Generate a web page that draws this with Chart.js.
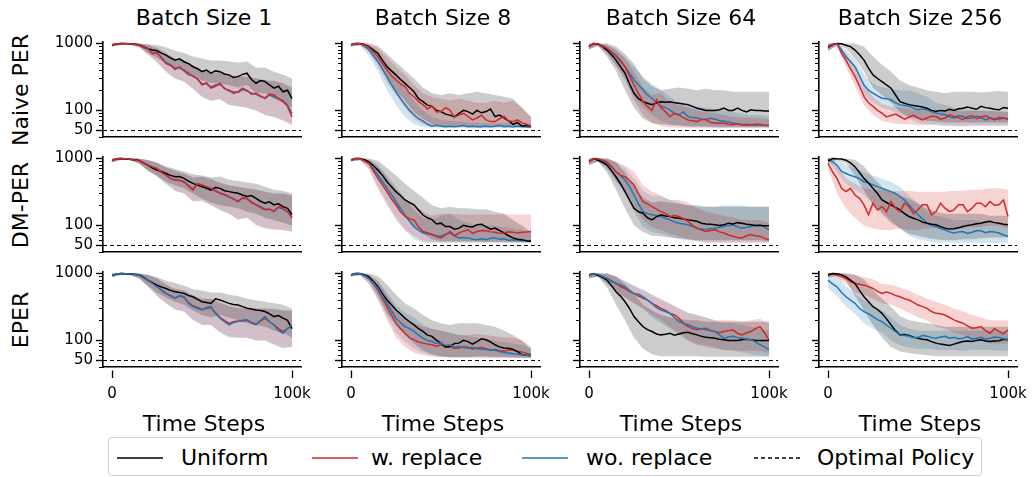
<!DOCTYPE html>
<html>
<head>
<meta charset="utf-8">
<script src="https://cdn.jsdelivr.net/npm/chart.js@4.4.0/dist/chart.umd.min.js"></script>
<style>
  body { margin: 0; background: #fff; width: 1032px; height: 477px; position: relative; overflow: hidden;
         font-family: "DejaVu Sans", sans-serif; color: #000; }
  canvas.panel { position: absolute; }
  .txt { position: absolute; white-space: nowrap; font-size: 22px; line-height: 1; }
  .colTitle, .xTitle { transform: translate(-50%, -50%); }
  .rowTitle { transform: translate(-50%, -50%) rotate(-90deg); }
  #legend { position: absolute; left: 108px; top: 437px; width: 872px; height: 37px;
            border: 1px solid #d0d0d0; border-radius: 4px; }
  .handle { position: absolute; }
</style>
</head>
<body>
<div id="legend"></div>
<script>
// x positions of the running means (every 2.5k steps) and of the band edges (every 5k steps)
const steps = [0, 2500, 5000, 7500, 10000, 12500, 15000, 17500, 20000, 22500, 25000, 27500, 30000, 32500, 35000, 37500, 40000, 42500, 45000, 47500, 50000, 52500, 55000, 57500, 60000, 62500, 65000, 67500, 70000, 72500, 75000, 77500, 80000, 82500, 85000, 87500, 90000, 92500, 95000, 97500, 100000];
const bandSteps = [0, 5000, 10000, 15000, 20000, 25000, 30000, 35000, 40000, 45000, 50000, 55000, 60000, 65000, 70000, 75000, 80000, 85000, 90000, 95000, 100000];

const batchTitles = ['Batch Size 1', 'Batch Size 8', 'Batch Size 64', 'Batch Size 256'];
const methodNames = ['Naive PER', 'DM-PER', 'EPER'];
const seriesNames = ['Uniform', 'w. replace', 'wo. replace'];
const optimalName = 'Optimal Policy';
const optimalSteps = 50;
const yTicks = [40, 50, 60, 70, 80, 90, 100, 200, 300, 400, 500, 600, 700, 800, 900, 1000];
const yMajor = [50, 100, 1000];
const yTickLabels = ['50', '100', '1000'];
const xTicks = [0, 100000];
const xTickLabels = ['0', '100k'];
const xAxisTitle = 'Time Steps';

// ---- Naive PER ----
const naive1Uniform = [950, 985, 1000, 1000, 990, 985, 960, 900, 840, 800, 780, 720, 670, 610, 565, 590, 535, 500, 450, 420, 380, 400, 360, 390, 380, 350, 340, 310, 320, 345, 360, 290, 255, 280, 270, 240, 215, 230, 190, 200, 150];
const naive1WRep = [950, 990, 1000, 995, 990, 980, 950, 880, 840, 700, 740, 600, 505, 470, 425, 440, 400, 360, 320, 300, 240, 260, 215, 230, 255, 210, 203, 180, 190, 215, 200, 175, 180, 165, 150, 175, 170, 150, 135, 115, 80];
const naive1WoRep = [950, 985, 1000, 990, 985, 975, 945, 870, 830, 720, 720, 620, 520, 480, 410, 450, 390, 340, 330, 290, 250, 250, 225, 240, 245, 215, 195, 190, 185, 205, 195, 180, 175, 160, 155, 170, 160, 150, 140, 120, 90];
const naive1UniformLo = [900, 950, 960, 900, 720, 610, 500, 420, 400, 330, 280, 260, 250, 240, 220, 240, 180, 180, 150, 130, 110];
const naive1UniformHi = [1000, 1000, 1000, 1000, 980, 950, 880, 780, 720, 640, 600, 560, 560, 540, 520, 540, 440, 440, 380, 340, 300];
const naive1WRepLo = [900, 950, 950, 880, 680, 520, 380, 300, 270, 210, 160, 140, 150, 120, 115, 110, 100, 85, 80, 70, 60];
const naive1WRepHi = [1000, 1000, 1000, 1000, 960, 850, 700, 600, 560, 480, 400, 360, 380, 340, 330, 320, 300, 280, 280, 260, 220];
const naive1WoRepLo = [900, 950, 950, 880, 690, 530, 380, 300, 270, 210, 160, 140, 145, 120, 115, 110, 100, 85, 80, 72, 62];
const naive1WoRepHi = [1000, 1000, 1000, 1000, 960, 860, 720, 600, 560, 470, 400, 360, 370, 330, 320, 320, 300, 280, 270, 250, 220];

const naive8Uniform = [960, 1000, 1000, 980, 890, 800, 710, 560, 450, 390, 340, 290, 254, 220, 190, 150, 135, 120, 115, 100, 96, 88, 85, 80, 90, 100, 96, 88, 100, 92, 96, 105, 81, 85, 77, 70, 62, 66, 58, 60, 57];
const naive8WRep = [960, 1000, 990, 960, 870, 740, 630, 500, 400, 330, 285, 250, 227, 180, 160, 135, 122, 105, 115, 95, 96, 110, 100, 80, 85, 90, 81, 72, 77, 85, 72, 68, 68, 75, 81, 70, 68, 72, 65, 62, 58];
const naive8WoRep = [960, 1000, 990, 920, 800, 650, 535, 410, 320, 240, 190, 150, 122, 100, 86, 75, 69, 62, 58, 60, 58, 57, 58, 57, 58, 60, 57, 58, 57, 57, 58, 57, 58, 60, 57, 58, 57, 58, 58, 57, 57];
const naive8UniformLo = [900, 950, 800, 530, 300, 200, 140, 95, 75, 62, 58, 58, 58, 58, 58, 58, 57, 57, 56, 55, 55];
const naive8UniformHi = [1000, 1000, 1000, 920, 700, 520, 400, 300, 220, 180, 170, 180, 170, 180, 190, 180, 170, 160, 150, 110, 80];
const naive8WRepLo = [900, 940, 750, 450, 260, 170, 110, 75, 62, 58, 57, 57, 56, 56, 56, 56, 56, 56, 56, 55, 55];
const naive8WRepHi = [1000, 1000, 980, 850, 620, 450, 340, 240, 180, 160, 150, 140, 150, 140, 130, 130, 140, 130, 140, 110, 80];
const naive8WoRepLo = [900, 930, 650, 380, 200, 120, 80, 62, 56, 55, 55, 55, 55, 55, 55, 55, 55, 55, 55, 55, 55];
const naive8WoRepHi = [1000, 1000, 960, 760, 500, 330, 210, 140, 100, 80, 72, 70, 68, 66, 65, 64, 64, 64, 64, 63, 62];

const naive64Uniform = [900, 1000, 980, 900, 800, 680, 565, 450, 360, 250, 180, 150, 135, 128, 122, 130, 135, 132, 135, 130, 128, 125, 122, 115, 108, 104, 100, 100, 100, 102, 108, 100, 100, 108, 100, 95, 102, 100, 100, 98, 98];
const naive64WRep = [900, 1000, 990, 920, 845, 760, 670, 560, 450, 330, 240, 180, 135, 115, 100, 143, 110, 95, 81, 90, 85, 78, 72, 70, 68, 73, 73, 66, 65, 64, 64, 62, 61, 63, 61, 60, 61, 62, 62, 60, 59];
const naive64WoRep = [900, 1000, 990, 920, 845, 740, 634, 540, 450, 360, 285, 240, 203, 170, 152, 130, 115, 110, 102, 90, 86, 95, 81, 78, 77, 74, 73, 76, 74, 70, 69, 67, 65, 63, 61, 62, 61, 60, 61, 60, 60];
const naive64UniformLo = [820, 930, 640, 390, 200, 110, 75, 65, 62, 60, 60, 58, 58, 58, 57, 57, 57, 57, 57, 57, 57];
const naive64UniformHi = [1000, 1000, 1000, 900, 700, 500, 300, 230, 200, 210, 220, 210, 200, 210, 200, 200, 190, 190, 190, 190, 190];
const naive64WRepLo = [820, 930, 720, 480, 300, 140, 85, 65, 58, 56, 55, 55, 55, 55, 55, 55, 55, 55, 55, 55, 55];
const naive64WRepHi = [1000, 1000, 960, 820, 600, 380, 220, 170, 180, 130, 120, 110, 100, 95, 90, 85, 80, 78, 78, 76, 74];
const naive64WoRepLo = [820, 930, 700, 460, 280, 160, 110, 85, 70, 62, 58, 57, 56, 56, 55, 55, 55, 55, 55, 55, 55];
const naive64WoRepHi = [1000, 1000, 960, 800, 620, 450, 320, 250, 200, 160, 130, 120, 115, 110, 105, 100, 95, 90, 85, 85, 82];

const naive256Uniform = [880, 960, 1000, 990, 945, 900, 800, 680, 565, 430, 340, 300, 270, 240, 215, 170, 135, 128, 122, 118, 115, 112, 108, 100, 96, 100, 98, 104, 100, 106, 108, 112, 108, 104, 115, 110, 108, 104, 102, 110, 108];
const naive256WRep = [900, 970, 1000, 720, 565, 420, 320, 230, 161, 130, 115, 100, 91, 80, 84, 88, 81, 74, 79, 85, 77, 72, 77, 82, 81, 74, 77, 86, 81, 78, 73, 80, 84, 75, 79, 83, 77, 72, 79, 76, 75];
const naive256WoRep = [900, 980, 1000, 800, 634, 540, 450, 330, 240, 200, 181, 165, 152, 150, 144, 130, 121, 118, 115, 108, 102, 105, 102, 95, 91, 88, 86, 80, 77, 84, 81, 76, 77, 82, 79, 72, 77, 75, 73, 78, 73];
const naive256UniformLo = [780, 950, 850, 600, 380, 220, 170, 130, 95, 80, 75, 70, 68, 66, 66, 66, 66, 66, 66, 66, 66];
const naive256UniformHi = [1000, 1000, 1000, 1000, 900, 640, 480, 380, 280, 240, 220, 200, 190, 180, 190, 190, 190, 185, 190, 195, 190];
const naive256WRepLo = [780, 920, 440, 230, 120, 85, 70, 65, 62, 62, 60, 60, 62, 60, 60, 58, 60, 60, 60, 60, 60];
const naive256WRepHi = [1000, 1000, 720, 440, 240, 160, 125, 115, 110, 105, 100, 100, 102, 100, 100, 96, 100, 98, 98, 96, 95];
const naive256WoRepLo = [780, 930, 500, 320, 170, 130, 110, 100, 85, 75, 65, 62, 60, 58, 58, 58, 58, 58, 58, 58, 58];
const naive256WoRepHi = [1000, 1000, 800, 600, 350, 250, 220, 210, 200, 200, 180, 160, 130, 120, 110, 105, 100, 100, 98, 96, 95];

// ---- DM-PER ----
const dm1Uniform = [930, 990, 1000, 985, 980, 960, 940, 860, 796, 720, 671, 640, 598, 560, 534, 540, 505, 460, 425, 400, 379, 360, 338, 370, 358, 330, 320, 310, 302, 285, 270, 280, 254, 230, 215, 225, 203, 210, 191, 180, 145];
const dm1WRep = [930, 990, 1000, 990, 975, 950, 930, 850, 796, 750, 710, 620, 565, 500, 477, 470, 450, 390, 338, 420, 402, 380, 358, 330, 302, 290, 270, 245, 227, 260, 254, 220, 203, 185, 171, 175, 161, 190, 181, 160, 130];
const dm1WoRep = [930, 990, 1000, 985, 975, 955, 925, 855, 790, 740, 700, 630, 570, 505, 480, 475, 445, 395, 350, 410, 395, 375, 350, 325, 305, 285, 265, 250, 230, 255, 250, 225, 205, 190, 175, 175, 165, 185, 175, 160, 135];
const dm1UniformLo = [880, 960, 940, 850, 660, 560, 450, 400, 360, 300, 250, 220, 200, 190, 180, 160, 150, 130, 120, 110, 100];
const dm1UniformHi = [1000, 1000, 1000, 1000, 950, 860, 760, 700, 640, 580, 560, 520, 540, 480, 460, 440, 420, 380, 340, 330, 300];
const dm1WRepLo = [880, 960, 940, 840, 650, 540, 420, 330, 300, 230, 240, 200, 170, 150, 120, 130, 100, 90, 85, 85, 80];
const dm1WRepHi = [1000, 1000, 1000, 1000, 940, 880, 740, 660, 600, 520, 540, 500, 440, 400, 380, 360, 340, 320, 300, 300, 280];
const dm1WoRepLo = [880, 960, 940, 840, 650, 540, 420, 330, 300, 230, 230, 200, 170, 150, 125, 130, 105, 92, 88, 85, 82];
const dm1WoRepHi = [1000, 1000, 1000, 1000, 940, 870, 730, 650, 590, 520, 530, 490, 430, 400, 380, 360, 340, 320, 300, 300, 280];

const dm8Uniform = [950, 1000, 1000, 960, 892, 780, 671, 560, 450, 380, 320, 280, 240, 220, 203, 170, 143, 130, 122, 105, 108, 96, 96, 88, 91, 100, 96, 95, 102, 104, 96, 88, 91, 84, 77, 70, 65, 62, 61, 59, 58];
const dm8WRep = [950, 1000, 990, 920, 843, 650, 505, 400, 320, 250, 203, 160, 136, 125, 121, 95, 81, 78, 73, 68, 65, 72, 81, 70, 77, 82, 86, 76, 81, 84, 83, 80, 79, 76, 77, 80, 79, 77, 79, 80, 81];
const dm8WoRep = [950, 1000, 990, 930, 843, 700, 565, 450, 358, 290, 227, 180, 144, 115, 96, 85, 77, 75, 73, 70, 69, 74, 77, 70, 65, 66, 65, 62, 61, 63, 61, 64, 65, 62, 63, 60, 61, 60, 59, 59, 58];
const dm8UniformLo = [900, 950, 800, 500, 300, 190, 130, 100, 75, 62, 58, 58, 58, 58, 58, 57, 57, 57, 56, 56, 55];
const dm8UniformHi = [1000, 1000, 1000, 930, 720, 560, 420, 330, 260, 200, 180, 190, 180, 180, 175, 175, 160, 150, 120, 100, 80];
const dm8WRepLo = [900, 940, 700, 340, 200, 120, 85, 70, 58, 56, 56, 56, 56, 56, 56, 56, 56, 56, 56, 56, 56];
const dm8WRepHi = [1000, 1000, 960, 760, 520, 340, 230, 200, 160, 140, 150, 150, 145, 145, 145, 145, 145, 145, 145, 145, 145];
const dm8WoRepLo = [900, 940, 700, 380, 220, 130, 85, 62, 56, 55, 55, 55, 55, 55, 55, 55, 55, 55, 55, 55, 55];
const dm8WoRepHi = [1000, 1000, 960, 800, 560, 380, 250, 170, 130, 120, 140, 150, 120, 110, 100, 100, 100, 95, 90, 85, 80];

const dm64Uniform = [900, 1000, 945, 880, 796, 660, 534, 420, 320, 240, 181, 160, 152, 130, 121, 135, 144, 138, 136, 130, 128, 125, 121, 118, 115, 108, 105, 104, 102, 100, 102, 108, 105, 110, 108, 104, 102, 100, 100, 99, 99];
const dm64WRep = [900, 1000, 990, 950, 892, 760, 634, 560, 534, 470, 402, 300, 227, 210, 191, 175, 161, 150, 136, 140, 136, 125, 115, 100, 91, 85, 81, 84, 86, 80, 77, 72, 69, 66, 65, 70, 73, 70, 69, 64, 61];
const dm64WoRep = [900, 1000, 990, 930, 843, 740, 634, 560, 477, 380, 285, 210, 161, 150, 144, 140, 136, 128, 121, 112, 108, 105, 102, 96, 91, 88, 86, 90, 91, 94, 96, 100, 102, 95, 91, 94, 96, 100, 102, 94, 86];
const dm64UniformLo = [800, 900, 620, 340, 180, 100, 80, 70, 68, 66, 64, 62, 60, 60, 60, 60, 60, 60, 60, 60, 58];
const dm64UniformHi = [1000, 1000, 1000, 880, 620, 380, 260, 220, 230, 220, 210, 200, 200, 190, 190, 190, 190, 190, 190, 190, 190];
const dm64WRepLo = [800, 900, 740, 460, 340, 200, 120, 95, 85, 75, 68, 62, 58, 56, 55, 55, 55, 55, 55, 55, 55];
const dm64WRepHi = [1000, 1000, 1000, 900, 780, 640, 400, 320, 280, 240, 240, 220, 180, 160, 150, 140, 130, 120, 120, 120, 110];
const dm64WoRepLo = [800, 900, 700, 450, 300, 160, 95, 80, 75, 68, 62, 60, 58, 56, 56, 56, 56, 56, 56, 56, 56];
const dm64WoRepHi = [1000, 1000, 1000, 880, 720, 500, 330, 280, 270, 240, 220, 200, 190, 190, 190, 200, 200, 200, 190, 190, 190];

const dm256Uniform = [920, 1000, 990, 985, 945, 860, 752, 620, 505, 430, 358, 300, 240, 220, 203, 185, 171, 150, 136, 128, 121, 112, 108, 104, 102, 96, 91, 88, 89, 92, 96, 100, 102, 106, 108, 112, 115, 110, 108, 104, 102];
const dm256WRep = [843, 634, 505, 358, 320, 358, 285, 254, 203, 144, 215, 171, 191, 161, 227, 181, 161, 215, 191, 150, 171, 203, 203, 144, 161, 215, 181, 161, 171, 203, 203, 160, 181, 215, 215, 190, 227, 200, 203, 240, 136];
const dm256WoRep = [1000, 900, 796, 640, 598, 560, 534, 500, 450, 430, 402, 380, 358, 340, 320, 300, 270, 240, 203, 170, 144, 125, 108, 100, 96, 90, 86, 80, 77, 80, 81, 76, 79, 84, 83, 78, 81, 80, 77, 72, 69];
const dm256UniformLo = [800, 960, 850, 560, 330, 200, 150, 110, 90, 75, 70, 65, 62, 60, 60, 62, 62, 64, 66, 66, 66];
const dm256UniformHi = [1000, 1000, 1000, 960, 760, 520, 380, 320, 280, 250, 210, 180, 160, 150, 150, 150, 150, 150, 140, 140, 140];
const dm256WRepLo = [700, 300, 180, 130, 100, 90, 85, 85, 90, 85, 85, 90, 90, 85, 90, 90, 95, 95, 100, 100, 90];
const dm256WRepHi = [960, 800, 500, 420, 360, 340, 340, 320, 330, 330, 320, 320, 320, 320, 330, 330, 340, 340, 360, 360, 340];
const dm256WoRepLo = [960, 620, 420, 340, 280, 220, 160, 120, 90, 70, 62, 58, 56, 56, 55, 55, 55, 55, 55, 55, 55];
const dm256WoRepHi = [1000, 1000, 800, 720, 620, 560, 500, 450, 380, 280, 220, 160, 140, 130, 120, 120, 120, 115, 115, 110, 105];

// ---- EPER ----
const eper1Uniform = [940, 985, 1000, 995, 990, 980, 960, 880, 796, 730, 671, 630, 598, 560, 534, 520, 505, 470, 450, 410, 379, 370, 358, 420, 402, 380, 358, 345, 338, 320, 302, 295, 285, 280, 270, 250, 227, 235, 215, 200, 150];
const eper1WRep = [940, 985, 1000, 990, 985, 970, 945, 865, 790, 720, 640, 570, 500, 470, 430, 460, 440, 370, 330, 310, 290, 300, 310, 260, 220, 200, 180, 190, 195, 195, 200, 185, 175, 195, 215, 190, 170, 150, 135, 150, 165];
const eper1WoRep = [940, 985, 1000, 995, 985, 975, 950, 870, 796, 710, 634, 560, 505, 460, 425, 470, 450, 360, 320, 300, 285, 310, 320, 250, 215, 190, 171, 185, 191, 200, 203, 180, 171, 200, 227, 190, 171, 140, 128, 150, 171];
const eper1UniformLo = [880, 960, 940, 860, 650, 520, 440, 380, 340, 280, 240, 220, 240, 220, 200, 180, 170, 160, 140, 130, 110];
const eper1UniformHi = [1000, 1000, 1000, 1000, 960, 880, 780, 720, 660, 580, 560, 520, 520, 480, 460, 420, 400, 380, 360, 340, 300];
const eper1WRepLo = [880, 960, 940, 850, 640, 460, 360, 290, 270, 205, 170, 170, 135, 115, 110, 110, 100, 100, 88, 78, 80];
const eper1WRepHi = [1000, 1000, 1000, 1000, 950, 850, 690, 590, 560, 470, 420, 420, 370, 330, 310, 300, 300, 300, 290, 280, 280];
const eper1WoRepLo = [880, 960, 940, 850, 640, 460, 360, 290, 270, 200, 170, 170, 130, 110, 110, 110, 100, 100, 85, 75, 80];
const eper1WoRepHi = [1000, 1000, 1000, 1000, 950, 840, 680, 580, 560, 460, 420, 420, 360, 320, 300, 300, 300, 300, 300, 280, 280];

const eper8Uniform = [950, 1000, 1000, 960, 892, 760, 634, 500, 402, 340, 285, 250, 215, 190, 171, 150, 136, 120, 115, 100, 91, 80, 81, 90, 91, 100, 96, 88, 96, 106, 102, 95, 86, 80, 77, 76, 73, 68, 61, 60, 59];
const eper8WRep = [950, 1000, 990, 930, 843, 700, 565, 420, 320, 240, 181, 150, 128, 110, 102, 95, 91, 88, 86, 82, 86, 80, 81, 76, 77, 80, 79, 74, 77, 78, 75, 72, 73, 70, 69, 72, 73, 68, 67, 64, 61];
const eper8WoRep = [950, 1000, 990, 940, 843, 720, 598, 460, 358, 280, 215, 185, 161, 150, 136, 120, 108, 100, 96, 90, 91, 84, 86, 80, 81, 78, 77, 79, 75, 74, 73, 72, 71, 68, 66, 65, 63, 62, 61, 60, 59];
const eper8UniformLo = [900, 950, 780, 460, 250, 170, 120, 90, 70, 62, 58, 56, 56, 56, 58, 58, 57, 57, 56, 55, 55];
const eper8UniformHi = [1000, 1000, 1000, 920, 680, 480, 360, 300, 240, 200, 180, 170, 180, 180, 180, 170, 160, 140, 120, 100, 75];
const eper8WRepLo = [900, 940, 700, 400, 200, 110, 80, 65, 60, 57, 56, 56, 56, 56, 56, 55, 55, 55, 55, 55, 55];
const eper8WRepHi = [1000, 1000, 960, 760, 480, 300, 220, 180, 160, 150, 140, 130, 120, 120, 125, 120, 115, 110, 110, 100, 80];
const eper8WoRepLo = [900, 940, 700, 420, 230, 130, 95, 75, 65, 60, 57, 56, 56, 55, 55, 55, 55, 55, 55, 55, 55];
const eper8WoRepHi = [1000, 1000, 960, 780, 520, 340, 260, 220, 170, 150, 140, 130, 120, 115, 110, 105, 100, 95, 90, 85, 75];

const eper64Uniform = [950, 1000, 945, 880, 796, 660, 534, 460, 379, 300, 227, 190, 161, 145, 136, 125, 121, 124, 128, 120, 125, 130, 132, 126, 121, 115, 111, 110, 108, 104, 102, 100, 100, 100, 102, 104, 102, 100, 100, 100, 100];
const eper64WRep = [945, 990, 945, 900, 843, 780, 710, 640, 598, 540, 505, 460, 425, 400, 358, 330, 302, 280, 254, 240, 215, 180, 161, 150, 144, 150, 152, 140, 136, 130, 136, 140, 144, 128, 121, 130, 136, 150, 161, 130, 102];
const eper64WoRep = [945, 990, 977, 910, 843, 760, 710, 680, 634, 560, 505, 490, 450, 400, 358, 310, 285, 270, 254, 220, 191, 180, 171, 160, 152, 150, 144, 140, 136, 120, 108, 112, 115, 110, 108, 104, 102, 95, 86, 80, 73];
const eper64UniformLo = [850, 900, 620, 340, 200, 110, 75, 62, 58, 58, 58, 58, 58, 57, 57, 57, 57, 57, 57, 57, 57];
const eper64UniformHi = [1000, 1000, 1000, 900, 700, 500, 340, 280, 240, 220, 210, 200, 200, 190, 190, 190, 190, 190, 190, 190, 190];
const eper64WRepLo = [850, 900, 720, 560, 440, 360, 300, 240, 200, 160, 130, 100, 85, 80, 75, 72, 72, 70, 70, 70, 65];
const eper64WRepHi = [1000, 1000, 1000, 900, 760, 650, 560, 480, 420, 360, 300, 260, 240, 220, 200, 200, 200, 190, 200, 210, 180];
const eper64WoRepLo = [850, 900, 700, 540, 440, 360, 300, 220, 180, 150, 120, 100, 90, 85, 80, 72, 70, 66, 62, 60, 58];
const eper64WoRepHi = [1000, 1000, 1000, 900, 780, 660, 580, 480, 400, 350, 300, 260, 240, 220, 200, 180, 180, 170, 160, 150, 140];

const eper256Uniform = [945, 1000, 990, 960, 892, 800, 710, 560, 450, 380, 320, 290, 254, 210, 171, 140, 121, 122, 118, 112, 108, 104, 102, 96, 91, 88, 86, 84, 88, 92, 96, 98, 96, 100, 102, 98, 96, 98, 99, 104, 102];
const eper256WRep = [977, 1000, 945, 900, 843, 760, 710, 690, 671, 640, 598, 540, 505, 530, 505, 470, 450, 420, 402, 370, 338, 320, 302, 270, 254, 250, 240, 220, 203, 190, 181, 165, 152, 155, 161, 140, 128, 150, 136, 125, 144];
const eper256WoRep = [796, 700, 634, 520, 450, 400, 358, 300, 270, 250, 227, 205, 191, 170, 152, 135, 121, 118, 115, 110, 111, 118, 115, 110, 108, 112, 115, 108, 111, 106, 108, 114, 104, 108, 111, 104, 108, 112, 111, 106, 104];
const eper256UniformLo = [850, 950, 780, 460, 280, 170, 110, 80, 68, 65, 62, 60, 58, 58, 58, 58, 58, 58, 58, 58, 58];
const eper256UniformHi = [1000, 1000, 1000, 960, 820, 560, 420, 320, 230, 200, 190, 180, 170, 160, 160, 160, 160, 160, 160, 160, 160];
const eper256WRepLo = [930, 880, 700, 520, 480, 420, 360, 340, 300, 260, 220, 200, 160, 150, 130, 120, 100, 100, 90, 90, 90];
const eper256WRepHi = [1000, 1000, 1000, 960, 880, 820, 700, 680, 620, 560, 480, 420, 380, 340, 300, 270, 240, 220, 200, 200, 200];
const eper256WoRepLo = [600, 460, 320, 250, 180, 150, 130, 100, 85, 78, 75, 75, 72, 72, 72, 70, 72, 72, 72, 70, 70];
const eper256WoRepHi = [1000, 920, 650, 500, 400, 330, 280, 220, 170, 150, 140, 140, 140, 140, 140, 140, 140, 140, 140, 140, 140];

// [mean, lower, upper] per series: Uniform, w. replace, wo. replace
const panels = [
  [
    [[naive1Uniform, naive1UniformLo, naive1UniformHi], [naive1WRep, naive1WRepLo, naive1WRepHi], [naive1WoRep, naive1WoRepLo, naive1WoRepHi]],
    [[naive8Uniform, naive8UniformLo, naive8UniformHi], [naive8WRep, naive8WRepLo, naive8WRepHi], [naive8WoRep, naive8WoRepLo, naive8WoRepHi]],
    [[naive64Uniform, naive64UniformLo, naive64UniformHi], [naive64WRep, naive64WRepLo, naive64WRepHi], [naive64WoRep, naive64WoRepLo, naive64WoRepHi]],
    [[naive256Uniform, naive256UniformLo, naive256UniformHi], [naive256WRep, naive256WRepLo, naive256WRepHi], [naive256WoRep, naive256WoRepLo, naive256WoRepHi]]
  ],
  [
    [[dm1Uniform, dm1UniformLo, dm1UniformHi], [dm1WRep, dm1WRepLo, dm1WRepHi], [dm1WoRep, dm1WoRepLo, dm1WoRepHi]],
    [[dm8Uniform, dm8UniformLo, dm8UniformHi], [dm8WRep, dm8WRepLo, dm8WRepHi], [dm8WoRep, dm8WoRepLo, dm8WoRepHi]],
    [[dm64Uniform, dm64UniformLo, dm64UniformHi], [dm64WRep, dm64WRepLo, dm64WRepHi], [dm64WoRep, dm64WoRepLo, dm64WoRepHi]],
    [[dm256Uniform, dm256UniformLo, dm256UniformHi], [dm256WRep, dm256WRepLo, dm256WRepHi], [dm256WoRep, dm256WoRepLo, dm256WoRepHi]]
  ],
  [
    [[eper1Uniform, eper1UniformLo, eper1UniformHi], [eper1WRep, eper1WRepLo, eper1WRepHi], [eper1WoRep, eper1WoRepLo, eper1WoRepHi]],
    [[eper8Uniform, eper8UniformLo, eper8UniformHi], [eper8WRep, eper8WRepLo, eper8WRepHi], [eper8WoRep, eper8WoRepLo, eper8WoRepHi]],
    [[eper64Uniform, eper64UniformLo, eper64UniformHi], [eper64WRep, eper64WRepLo, eper64WRepHi], [eper64WoRep, eper64WoRepLo, eper64WoRepHi]],
    [[eper256Uniform, eper256UniformLo, eper256UniformHi], [eper256WRep, eper256WRepLo, eper256WRepHi], [eper256WoRep, eper256WoRepLo, eper256WoRepHi]]
  ]
];

// styling
const lineColors = ['#000000', '#d62728', '#1f77b4'];
const bandColors = ['rgba(0,0,0,0.2)', 'rgba(214,39,40,0.2)', 'rgba(31,119,180,0.2)'];
// which series sits on top in each row (smaller = drawn later)
const rowOrder = [[2, 1, 3], [2, 1, 3], [2, 3, 1]];

// grid geometry
const colLeft = [103, 342, 580, 819];
const rowTop = [42, 157, 272];
const axW = 198, axH = 95;
const yAxisW = 60, padTop = 10, padRight = 24;

Chart.defaults.font.family = 'DejaVu Sans';
Chart.defaults.color = '#000';

function pts(xs, ys) {
  return ys.map(function (y, i) { return { x: xs[i], y: y }; });
}

function addText(cls, text, left, top) {
  var d = document.createElement('div');
  d.className = 'txt ' + cls;
  d.textContent = text;
  d.style.left = left + 'px';
  d.style.top = top + 'px';
  document.body.appendChild(d);
}

function makePanel(r, c) {
  var lastRow = r === 2;
  var xAxisH = lastRow ? 45 : 4;
  var canvas = document.createElement('canvas');
  canvas.className = 'panel';
  canvas.width = yAxisW + axW + padRight;
  canvas.height = padTop + axH + xAxisH;
  canvas.style.left = (colLeft[c] - yAxisW) + 'px';
  canvas.style.top = (rowTop[r] - padTop) + 'px';
  document.body.appendChild(canvas);

  var series = panels[r][c];
  var datasets = [];
  // shaded bands first
  series.forEach(function (s, k) {
    datasets.push({ data: pts(bandSteps, s[1]), borderWidth: 0, borderColor: 'transparent', pointRadius: 0, fill: false, order: 20 + k });
    datasets.push({ data: pts(bandSteps, s[2]), borderWidth: 0, borderColor: 'transparent', pointRadius: 0,
                    fill: '-1', backgroundColor: bandColors[k], order: 20 + k });
  });
  // dashed optimal reference
  datasets.push({ data: [{ x: -5000, y: optimalSteps }, { x: 105000, y: optimalSteps }], borderColor: '#000',
                  borderWidth: 1.1, borderDash: [4, 3], pointRadius: 0, fill: false, order: 10 });
  // mean curves
  series.forEach(function (s, k) {
    datasets.push({ label: seriesNames[k], data: pts(steps, s[0]), borderColor: lineColors[k], borderWidth: 1.5,
                    pointRadius: 0, fill: false, order: rowOrder[r][k] });
  });

  new Chart(canvas, {
    type: 'line',
    data: { datasets: datasets },
    options: {
      responsive: false,
      animation: false,
      events: [],
      layout: { padding: { left: 0, top: padTop, right: padRight, bottom: 0 }, autoPadding: false },
      plugins: { legend: { display: false }, tooltip: { enabled: false } },
      elements: { line: { tension: 0 } },
      scales: {
        x: {
          type: 'linear', min: -5000, max: 105000,
          border: { display: true, color: '#000', width: 1.6 },
          grid: { drawOnChartArea: false, drawTicks: lastRow, tickLength: 11, tickColor: '#000', tickWidth: 1.3,
                  tickBorderDash: [0, 3, 8, 40] },
          ticks: {
            display: lastRow, autoSkip: false, maxRotation: 0, padding: 7, font: { size: 15 },
            callback: function (v) { var i = xTicks.indexOf(v); return i >= 0 ? xTickLabels[i] : ''; }
          },
          afterBuildTicks: function (scale) { scale.ticks = xTicks.map(function (v) { return { value: v }; }); },
          afterFit: function (scale) {
            scale.height = xAxisH;
            scale.paddingLeft = 0; scale.paddingRight = 0;
          }
        },
        y: {
          type: 'logarithmic', min: 40, max: 1055,
          border: { display: true, color: '#000', width: 1.6 },
          grid: {
            drawOnChartArea: false, tickLength: 7, tickColor: '#000',
            tickWidth: function (ctx) { return ctx.tick && yMajor.indexOf(ctx.tick.value) >= 0 ? 1.4 : 1.1; },
            tickBorderDash: function (ctx) { return ctx.tick && yMajor.indexOf(ctx.tick.value) >= 0 ? [] : [0, 3, 20]; }
          },
          ticks: {
            autoSkip: false, padding: 3, font: { size: 15 },
            callback: function (v) {
              var i = yMajor.indexOf(v);
              return (c === 0 && i >= 0) ? yTickLabels[i] : '';
            }
          },
          afterBuildTicks: function (scale) { scale.ticks = yTicks.map(function (v) { return { value: v }; }); },
          afterFit: function (scale) {
            scale.width = yAxisW;
            scale.paddingTop = 0; scale.paddingBottom = 0;
          }
        }
      }
    }
  });
}

for (var r = 0; r < 3; r++) {
  for (var c = 0; c < 4; c++) makePanel(r, c);
}

// column titles, row titles, x axis titles
batchTitles.forEach(function (t, c) {
  addText('colTitle', t, colLeft[c] + axW / 2 + 2, 18);
  addText('xTitle', xAxisTitle, colLeft[c] + axW / 2 + 2, 424);
});
methodNames.forEach(function (t, r) {
  addText('rowTitle', t, 21, rowTop[r] + axH / 2);
});

// legend entries
var legendItems = [
  { name: seriesNames[0], color: lineColors[0], dash: '', x: 117, tx: 181 },
  { name: seriesNames[1], color: lineColors[1], dash: '', x: 312, tx: 371 },
  { name: seriesNames[2], color: lineColors[2], dash: '', x: 522, tx: 586 },
  { name: optimalName, color: '#000', dash: '4,3', x: 754, tx: 817 }
];
legendItems.forEach(function (it) {
  var svg = document.createElementNS('http://www.w3.org/2000/svg', 'svg');
  svg.setAttribute('class', 'handle');
  svg.setAttribute('width', '46');
  svg.setAttribute('height', '6');
  svg.style.left = it.x + 'px';
  svg.style.top = '455px';
  var ln = document.createElementNS('http://www.w3.org/2000/svg', 'line');
  ln.setAttribute('x1', '0'); ln.setAttribute('x2', '46');
  ln.setAttribute('y1', '3'); ln.setAttribute('y2', '3');
  ln.setAttribute('stroke', it.color);
  ln.setAttribute('stroke-width', '1.4');
  if (it.dash) ln.setAttribute('stroke-dasharray', it.dash);
  svg.appendChild(ln);
  document.body.appendChild(svg);
  var d = document.createElement('div');
  d.className = 'txt';
  d.textContent = it.name;
  d.style.left = it.tx + 'px';
  d.style.top = '447px';
  document.body.appendChild(d);
});
</script>
</body>
</html>
